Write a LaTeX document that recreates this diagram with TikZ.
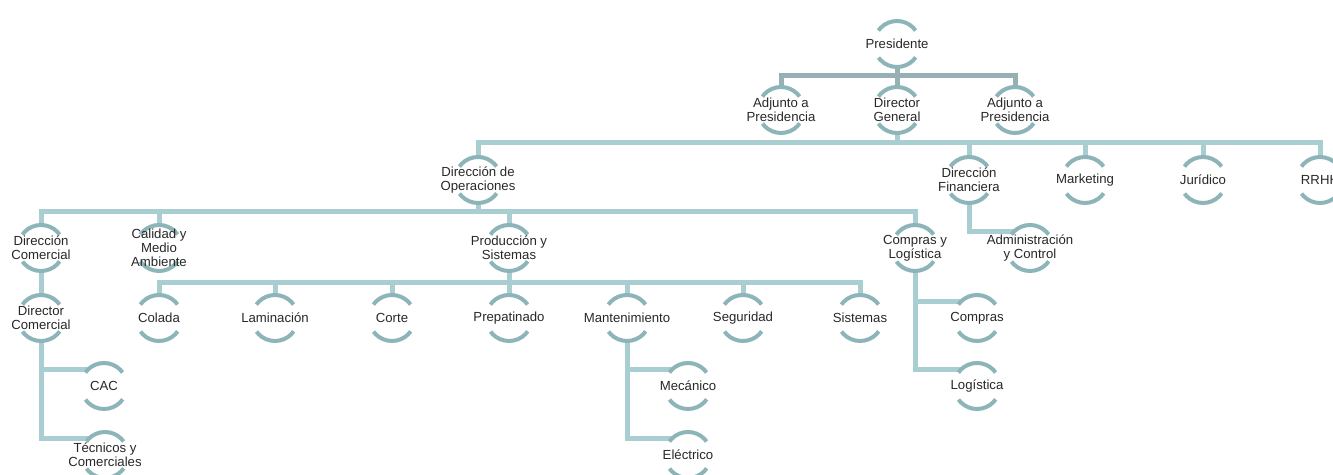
\documentclass[tikz,border=0pt]{standalone}
\usepackage{fontspec}
\setmainfont{Liberation Sans}
\usepackage{tikz}
\usetikzlibrary{backgrounds}

\definecolor{barteal}{RGB}{168,206,210}
\definecolor{arcteal}{RGB}{141,180,184}
\definecolor{topgrey}{RGB}{150,176,180}
\definecolor{unittxt}{RGB}{40,40,40}

\newcommand{\branchdraw}[4][]{%
  \draw[link, #1] (#2.south) |- (#3.north |- 0,#4) -- (#3.north);
}
\newcommand{\sidedraw}[2]{%
  \draw[link] (#1.south) |- (#2.north west);
}

\begin{document}
\begin{tikzpicture}[x=0.02cm, y=-0.02cm]

\tikzset{
  unit/.style={
    circle,
    draw=arcteal,
    line width=0.08cm,
    minimum size=0.92cm,
    inner sep=0pt,
    outer sep=0pt,
    dash pattern=on 0.8671cm off 0.5781cm,
    dash phase=1.1562cm
  },
  unittext/.style={
    font=\fontsize{7.5}{7.9}\selectfont,
    text=unittxt,
    align=center,
    inner sep=0pt
  },
  link/.style={draw=barteal, line width=0.1cm},
  toplink/.style={draw=topgrey}
}

\useasboundingbox (0,0) rectangle (1333,475);
\clip (0,0) rectangle (1333,475);

% NODES ----------------------------------------------------------

% Presidencia
\node[unit, label={[unittext]center:Presidente}] (pres) at (897,44) {};
\node[unit, label={[unittext]center:{Adjunto a\\Presidencia}}] (adjizq) at (781,110) {};
\node[unit, label={[unittext]center:{Director\\General}}] (dirgen) at (897,110) {};
\node[unit, label={[unittext]center:{Adjunto a\\Presidencia}}] (adjder) at (1015,110) {};

% Direcciones
\node[unit, label={[unittext]center:{Dirección de\\Operaciones}}] (dirops) at (478,180) {};
\node[unit, label={[unittext]center:{Dirección\\Financiera}}] (dirfin) at (969,180) {};
\node[unit, label={[unittext]center:Marketing}] (mkt) at (1085,180) {};
\node[unit, label={[unittext]center:Jurídico}] (jur) at (1203,180) {};
\node[unit, label={[unittext]center:RRHH}] (rrhh) at (1320,180) {};

% Operaciones
\node[unit, label={[unittext]center:{Dirección\\Comercial}}] (dircom) at (41,248) {};
\node[unit, label={[unittext]center:{Calidad y\\Medio\\Ambiente}}] (calidad) at (159,248) {};
\node[unit, label={[unittext]center:{Producción y\\Sistemas}}] (prodsis) at (509,248) {};
\node[unit, label={[unittext]center:{Compras y\\Logística}}] (comlog) at (915,248) {};
\node[unit, label={[unittext]center:{Administración\\y Control}}] (admcon) at (1030,248) {};

% Produccion
\node[unit, label={[unittext]center:Colada}] (colada) at (159,318) {};
\node[unit, label={[unittext]center:Laminación}] (lamin) at (275,318) {};
\node[unit, label={[unittext]center:Corte}] (corte) at (392,318) {};
\node[unit, label={[unittext]center:Prepatinado}] (prepat) at (509,318) {};
\node[unit, label={[unittext]center:Mantenimiento}] (mant) at (627,318) {};
\node[unit, label={[unittext]center:Seguridad}] (segur) at (743,318) {};
\node[unit, label={[unittext]center:Sistemas}] (sist) at (860,318) {};

% Comercial, mantenimiento, compras
\node[unit, label={[unittext]center:{Director\\Comercial}}] (dircomer) at (41,318) {};
\node[unit, label={[unittext]center:CAC}] (cac) at (104,386) {};
\node[unit, label={[unittext]center:{Técnicos y\\Comerciales}}] (tecom) at (105,455) {};
\node[unit, label={[unittext]center:Mecánico}] (mecan) at (688,386) {};
\node[unit, label={[unittext]center:Eléctrico}] (elect) at (688,455) {};
\node[unit, label={[unittext]center:Compras}] (compras) at (977,318) {};
\node[unit, label={[unittext]center:Logística}] (logist) at (977,386) {};

% DRAWS ---------------------------------------------------------

\begin{pgfonlayer}{background}
% Presidencia
\branchdraw[toplink]{pres}{adjizq}{76}
\branchdraw[toplink]{pres}{dirgen}{76}
\branchdraw[toplink]{pres}{adjder}{76}

% Direcciones
\branchdraw{dirgen}{dirops}{143}
\branchdraw{dirgen}{dirfin}{143}
\branchdraw{dirgen}{mkt}{143}
\branchdraw{dirgen}{jur}{143}
\branchdraw{dirgen}{rrhh}{143}
\sidedraw{dirfin}{admcon}

% Operaciones
\branchdraw{dirops}{dircom}{212}
\branchdraw{dirops}{calidad}{212}
\branchdraw{dirops}{prodsis}{212}
\branchdraw{dirops}{comlog}{212}

% Produccion
\branchdraw{prodsis}{colada}{283}
\branchdraw{prodsis}{lamin}{283}
\branchdraw{prodsis}{corte}{283}
\branchdraw{prodsis}{prepat}{283}
\branchdraw{prodsis}{mant}{283}
\branchdraw{prodsis}{segur}{283}
\branchdraw{prodsis}{sist}{283}

% Ramas laterales
\branchdraw{dircom}{dircomer}{283}
\sidedraw{dircomer}{cac}
\sidedraw{dircomer}{tecom}
\sidedraw{mant}{mecan}
\sidedraw{mant}{elect}
\sidedraw{comlog}{compras}
\sidedraw{comlog}{logist}
\end{pgfonlayer}

\end{tikzpicture}
\end{document}
